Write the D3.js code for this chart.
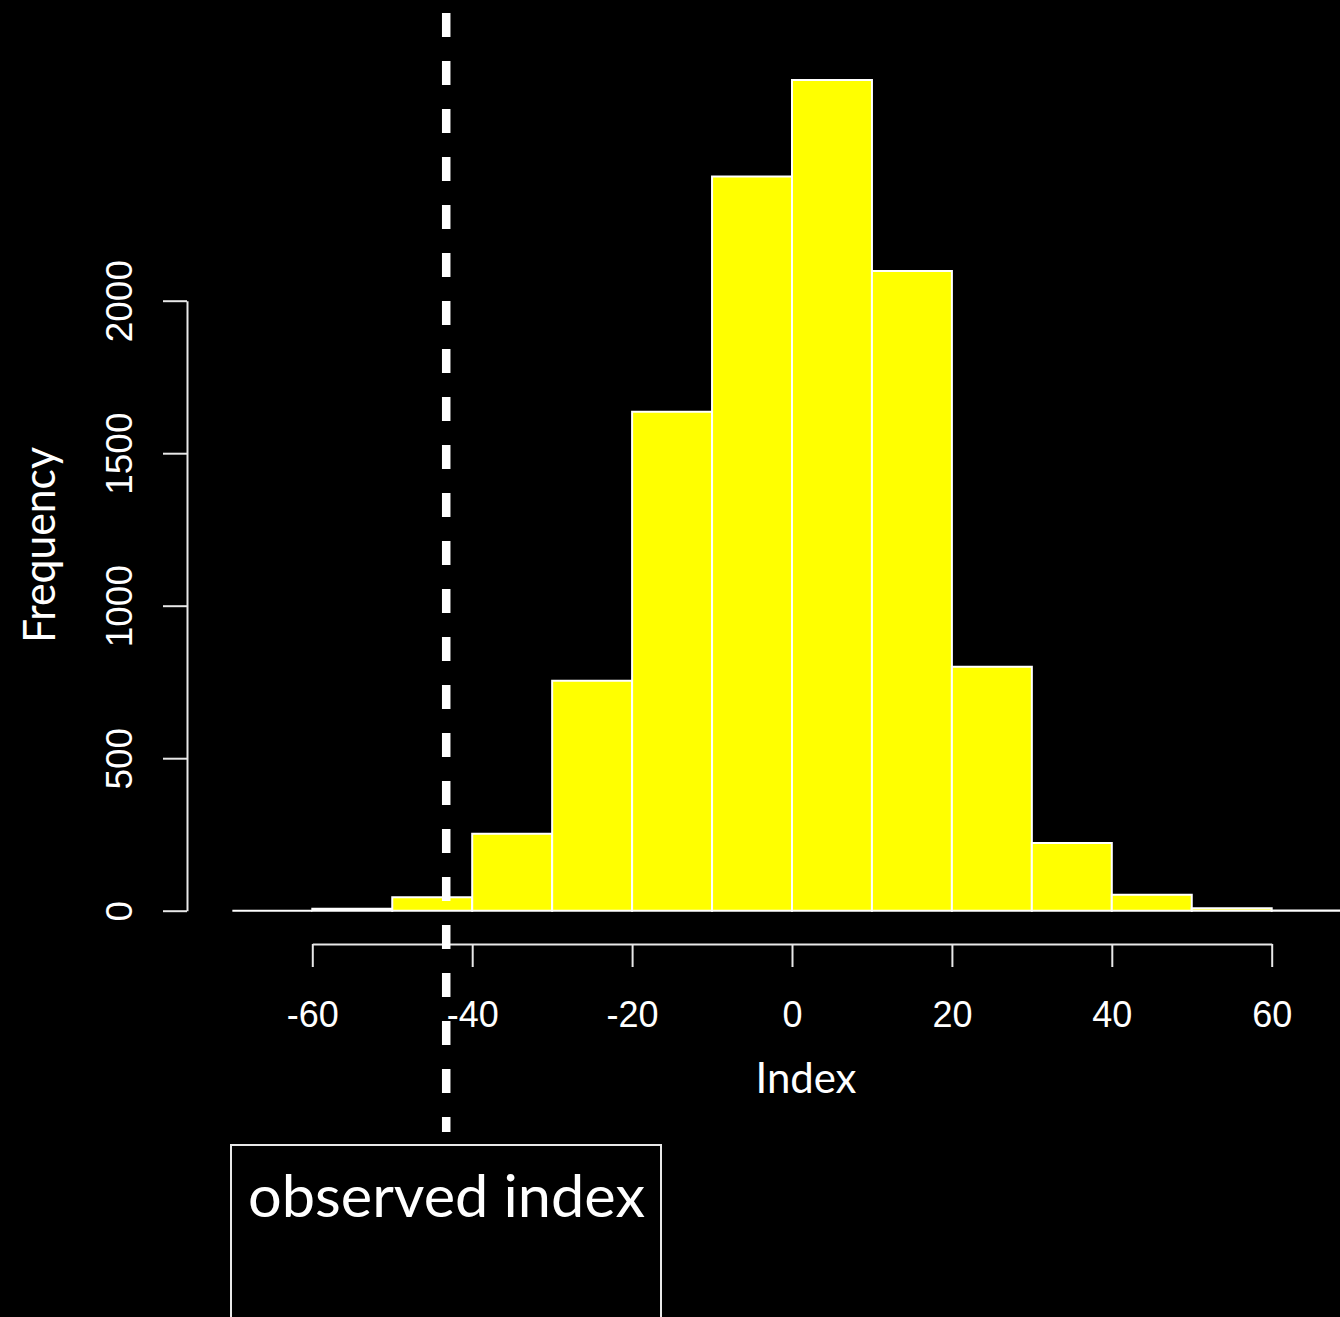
<!DOCTYPE html>
<html><head><meta charset="utf-8">
<script src="https://cdn.jsdelivr.net/npm/d3@7"></script>
<style>html,body{margin:0;padding:0;background:#000;overflow:hidden}</style>
</head><body>
<script>
const binStarts = [-70,-60,-50,-40,-30,-20,-10,0,10,20,30,40,50,60];
const binWidth = 10;
const counts = [0,6,44,252,754,1636,2407,2724,2097,800,222,52,8,1];
const xTicks = [-60,-40,-20,0,20,40,60];
const yTicks = [0,500,1000,1500,2000];
const observedIndex = -43.25;
const xLabel = "Index", yLabel = "Frequency", legendText = "observed index";

const W = 1340, H = 1317;
const svg = d3.select("body").append("svg").attr("width", W).attr("height", H)
  .style("background", "#000");

const x = d3.scaleLinear().domain([-60, 60]).range([312.3, 1271.7]);
const y = d3.scaleLinear().domain([0, 2000]).range([910.7, 300.7]);
const fmt = (d) => String(d);

// bars (drawn as closed paths so zero-height bins still show their outline)
svg.append("g").selectAll("path").data(binStarts).join("path")
  .attr("d", (d, i) => {
    const x0 = x(d), x1 = x(d + binWidth), y0 = y(0), y1 = y(counts[i]);
    return `M${x0},${y0}V${y1}H${x1}V${y0}Z`;
  })
  .attr("fill", "#ffff00")
  .attr("stroke", "#ffffff")
  .attr("stroke-width", 2);

// x axis
const gx = svg.append("g").attr("transform", "translate(0,944)")
  .call(d3.axisBottom(x).tickValues(xTicks).tickFormat(fmt).tickSize(23).tickSizeOuter(0));
gx.select(".domain").attr("stroke", "#e8e8e8").attr("stroke-width", 2);
gx.selectAll(".tick line").attr("stroke", "#e8e8e8").attr("stroke-width", 2);
gx.selectAll(".tick text").attr("fill", "#fff")
  .attr("font-family", "'Liberation Sans', Arial, sans-serif").attr("font-size", 36)
  .attr("dy", null).attr("y", 83);

// y axis
const gy = svg.append("g").attr("transform", "translate(187,0)")
  .call(d3.axisLeft(y).tickValues(yTicks).tickFormat(fmt).tickSize(24).tickSizeOuter(0));
gy.select(".domain").attr("stroke", "#e8e8e8").attr("stroke-width", 2);
gy.selectAll(".tick line").attr("stroke", "#e8e8e8").attr("stroke-width", 2);
gy.selectAll(".tick text").attr("fill", "#fff")
  .attr("font-family", "'Liberation Sans', Arial, sans-serif").attr("font-size", 37)
  .attr("x", null).attr("dy", null)
  .attr("text-anchor", "middle")
  .attr("transform", "translate(-55,0) rotate(-90)");

// axis titles
svg.append("text").attr("x", 806).attr("y", 1093)
  .attr("text-anchor", "middle").attr("fill", "#fff")
  .attr("font-family", "Lato, 'Open Sans', sans-serif").attr("font-size", 43)
  .attr("textLength", 101).attr("lengthAdjust", "spacingAndGlyphs")
  .text(xLabel);
svg.append("text")
  .attr("transform", "translate(55,545) rotate(-90)")
  .attr("text-anchor", "middle").attr("fill", "#fff")
  .attr("font-family", "Lato, 'Open Sans', sans-serif").attr("font-size", 45)
  .attr("textLength", 196).attr("lengthAdjust", "spacingAndGlyphs")
  .text(yLabel);

// observed index dashed line
svg.append("line")
  .attr("x1", x(observedIndex)).attr("x2", x(observedIndex))
  .attr("y1", 13).attr("y2", 1132)
  .attr("stroke", "#fff").attr("stroke-width", 8.5)
  .attr("stroke-dasharray", "24,24");

// legend box
svg.append("rect").attr("x", 231).attr("y", 1145).attr("width", 430).attr("height", 200)
  .attr("fill", "#000").attr("stroke", "#e8e8e8").attr("stroke-width", 2);
svg.append("text").attr("x", 248).attr("y", 1217)
  .attr("fill", "#fff")
  .attr("font-family", "Lato, 'Open Sans', sans-serif").attr("font-size", 58)
  .attr("textLength", 397).attr("lengthAdjust", "spacingAndGlyphs")
  .text(legendText);
</script>
</body></html>
